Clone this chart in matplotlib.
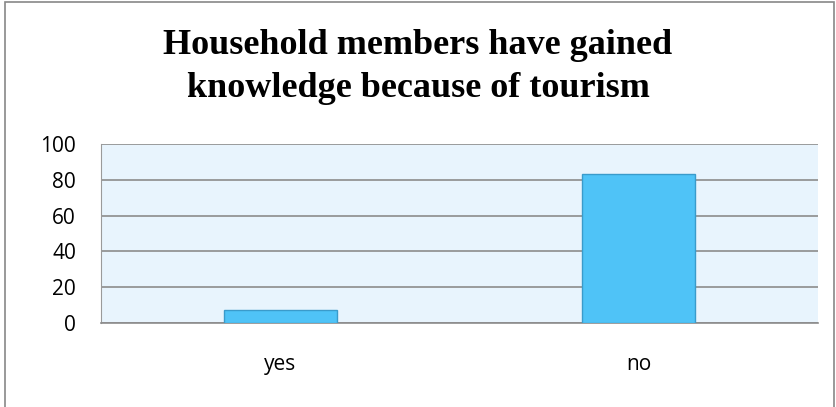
import matplotlib.pyplot as plt
from matplotlib.patches import Rectangle

categories = ["yes", "no"]
values = [7, 83]
y_ticks = [0, 20, 40, 60, 80, 100]
title_lines = ["Household members have gained", "knowledge because of tourism"]

fig = plt.figure(figsize=(8.36, 4.07), dpi=100)

# plot area placed in pixel terms
W, H = 836, 407
left, right, bottom, top = 101, 818, 323, 144
ax = fig.add_axes([left / W, 1 - bottom / H, (right - left) / W, (bottom - top) / H])

ax.set_facecolor("#E8F4FD")
ax.bar(categories, values, width=0.315, color="#4FC3F7", edgecolor="#3A9BCB", linewidth=1, zorder=3)

ax.set_ylim(0, 100)
ax.set_xlim(-0.5, 1.5)
ax.set_yticks(y_ticks)
ax.yaxis.grid(True, color="#8C8C8C", linewidth=1.2, zorder=1)
ax.tick_params(length=0, labelsize=15)
ax.tick_params(axis="y", pad=18)
ax.tick_params(axis="x", pad=22)
for lab in ax.get_xticklabels() + ax.get_yticklabels():
    lab.set_fontfamily("Open Sans")

for side in ["top", "right"]:
    ax.spines[side].set_visible(False)
ax.spines["left"].set_color("#9A9A9A")
ax.spines["bottom"].set_color("#8C8C8C")
ax.spines["bottom"].set_linewidth(1.2)

# two-line title, baselines set in pixels
for line, y_px in zip(title_lines, [54, 97]):
    fig.text(0.5, 1 - y_px / H, line, ha="center", va="baseline", fontsize=26,
             fontweight="bold", family="Liberation Serif")

# chart frame
fig.patches.append(Rectangle((5 / W, -0.05), 829 / W, 1.05 - 2 / H, transform=fig.transFigure,
                             fill=False, edgecolor="#888888", linewidth=1.2))

fig.savefig("out.png", dpi=100, facecolor="white")
